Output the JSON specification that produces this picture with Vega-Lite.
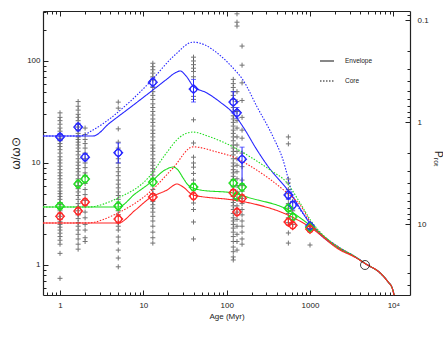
{
  "$schema": "https://vega.github.io/schema/vega-lite/v6.json",
  "width": 367,
  "height": 284,
  "autosize": "none",
  "padding": {"left": 43, "top": 11, "right": 33, "bottom": 42},
  "config": {
    "view": {"stroke": null},
    "font": "Liberation Sans",
    "axis": {
      "grid": false,
      "labelFont": "Liberation Sans",
      "labelFontSize": 8,
      "labelColor": "#222",
      "titleFont": "Liberation Sans",
      "titleFontWeight": "normal",
      "titleColor": "#222",
      "domainColor": "#222",
      "domainWidth": 1.2,
      "tickColor": "#222",
      "tickWidth": 1,
      "labelOverlap": false,
      "labelFlush": false,
      "labelBound": false
    }
  },
  "datasets": {
    "gray": [
      {"age":1,"omega":31},{"age":1,"omega":28},{"age":1,"omega":26},{"age":1,"omega":24},{"age":1,"omega":22},{"age":1,"omega":20.5},{"age":1,"omega":19},{"age":1,"omega":17.5},{"age":1,"omega":16.5},{"age":1,"omega":15.5},{"age":1,"omega":14.5},{"age":1,"omega":13.5},{"age":1,"omega":12.5},{"age":1,"omega":11.5},{"age":1,"omega":10.7},{"age":1,"omega":10},{"age":1,"omega":9.3},{"age":1,"omega":8.6},{"age":1,"omega":8},{"age":1,"omega":7.5},{"age":1,"omega":7},{"age":1,"omega":6.5},{"age":1,"omega":6.1},{"age":1,"omega":5.7},{"age":1,"omega":5.3},{"age":1,"omega":5},{"age":1,"omega":4.7},{"age":1,"omega":4.4},{"age":1,"omega":4.1},{"age":1,"omega":3.9},{"age":1,"omega":3.6},{"age":1,"omega":3.4},{"age":1,"omega":3.2},{"age":1,"omega":3.0},{"age":1,"omega":2.8},{"age":1,"omega":2.65},{"age":1,"omega":2.5},{"age":1,"omega":2.35},{"age":1,"omega":2.2},{"age":1,"omega":2.05},{"age":1,"omega":1.9},{"age":1,"omega":1.75},{"age":1,"omega":1.6},{"age":1,"omega":1.3},{"age":1,"omega":0.74},
      {"age":1.65,"omega":40},{"age":1.65,"omega":36},{"age":1.65,"omega":33},{"age":1.65,"omega":30},{"age":1.65,"omega":28},{"age":1.65,"omega":26},{"age":1.65,"omega":24},{"age":1.65,"omega":22.5},{"age":1.65,"omega":21},{"age":1.65,"omega":19.5},{"age":1.65,"omega":18},{"age":1.65,"omega":17},{"age":1.65,"omega":16},{"age":1.65,"omega":15},{"age":1.65,"omega":14},{"age":1.65,"omega":13},{"age":1.65,"omega":12},{"age":1.65,"omega":11},{"age":1.65,"omega":10.2},{"age":1.65,"omega":9.5},{"age":1.65,"omega":8.8},{"age":1.65,"omega":8.2},{"age":1.65,"omega":7.6},{"age":1.65,"omega":7},{"age":1.65,"omega":6.5},{"age":1.65,"omega":6},{"age":1.65,"omega":5.6},{"age":1.65,"omega":5.2},{"age":1.65,"omega":4.8},{"age":1.65,"omega":4.4},{"age":1.65,"omega":4},{"age":1.65,"omega":3.7},{"age":1.65,"omega":3.4},{"age":1.65,"omega":3.1},{"age":1.65,"omega":2.85},{"age":1.65,"omega":2.6},{"age":1.65,"omega":2.4},{"age":1.65,"omega":2.2},{"age":1.65,"omega":2.0},{"age":1.65,"omega":1.8},{"age":1.65,"omega":1.6},{"age":1.65,"omega":1.43},
      {"age":2,"omega":22},{"age":2,"omega":19},{"age":2,"omega":17},{"age":2,"omega":15.5},{"age":2,"omega":14},{"age":2,"omega":12.5},{"age":2,"omega":11},{"age":2,"omega":10},{"age":2,"omega":9},{"age":2,"omega":8},{"age":2,"omega":7.5},{"age":2,"omega":6.3},{"age":2,"omega":5.5},{"age":2,"omega":4.9},{"age":2,"omega":4.3},{"age":2,"omega":3.8},{"age":2,"omega":3.3},{"age":2,"omega":2.9},{"age":2,"omega":2.5},{"age":2,"omega":2.2},{"age":2,"omega":1.85},{"age":2,"omega":1.7},
      {"age":5,"omega":39.5},{"age":5,"omega":34.5},{"age":5,"omega":21.6},{"age":5,"omega":16},{"age":5,"omega":14},{"age":5,"omega":11},{"age":5,"omega":10},{"age":5,"omega":9},{"age":5,"omega":8.2},{"age":5,"omega":7.5},{"age":5,"omega":6.8},{"age":5,"omega":6.2},{"age":5,"omega":5.7},{"age":5,"omega":5.2},{"age":5,"omega":4.8},{"age":5,"omega":4.4},{"age":5,"omega":4.0},{"age":5,"omega":3.4},{"age":5,"omega":3.1},{"age":5,"omega":2.6},{"age":5,"omega":2.4},{"age":5,"omega":2.2},{"age":5,"omega":1.88},{"age":5,"omega":1.68},{"age":5,"omega":1.4},{"age":5,"omega":1.17},{"age":5,"omega":0.96},
      {"age":13,"omega":95},{"age":13,"omega":88},{"age":13,"omega":82},{"age":13,"omega":76},{"age":13,"omega":70},{"age":13,"omega":65},{"age":13,"omega":55},{"age":13,"omega":50},{"age":13,"omega":46},{"age":13,"omega":42},{"age":13,"omega":38},{"age":13,"omega":35},{"age":13,"omega":32},{"age":13,"omega":29.5},{"age":13,"omega":27},{"age":13,"omega":25},{"age":13,"omega":23},{"age":13,"omega":21},{"age":13,"omega":19.5},{"age":13,"omega":18},{"age":13,"omega":16.5},{"age":13,"omega":15},{"age":13,"omega":14},{"age":13,"omega":13},{"age":13,"omega":12},{"age":13,"omega":11},{"age":13,"omega":10.2},{"age":13,"omega":9.5},{"age":13,"omega":8.8},{"age":13,"omega":8.2},{"age":13,"omega":7.6},{"age":13,"omega":7},{"age":13,"omega":5.5},{"age":13,"omega":5},{"age":13,"omega":4.2},{"age":13,"omega":3.9},{"age":13,"omega":3.6},{"age":13,"omega":3.3},{"age":13,"omega":3.0},{"age":13,"omega":2.7},{"age":13,"omega":2.4},{"age":13,"omega":2.1},{"age":13,"omega":1.85},{"age":13,"omega":1.64},
      {"age":40,"omega":109},{"age":40,"omega":100},{"age":40,"omega":92},{"age":40,"omega":85},{"age":40,"omega":79},{"age":40,"omega":70},{"age":40,"omega":45},{"age":40,"omega":42},{"age":40,"omega":26.5},{"age":40,"omega":15.7},{"age":40,"omega":11.4},{"age":40,"omega":10},{"age":40,"omega":9.1},{"age":40,"omega":7.9},{"age":40,"omega":6.8},{"age":40,"omega":4.05},{"age":40,"omega":3.5},{"age":40,"omega":2.64},{"age":40,"omega":1.8},
      {"age":120,"omega":66},{"age":120,"omega":60},{"age":120,"omega":55},{"age":120,"omega":50},{"age":120,"omega":46},{"age":120,"omega":42},{"age":120,"omega":35},{"age":120,"omega":32},{"age":120,"omega":29},{"age":120,"omega":27},{"age":120,"omega":25},{"age":120,"omega":23},{"age":120,"omega":21},{"age":120,"omega":19.5},{"age":120,"omega":18},{"age":120,"omega":16.5},{"age":120,"omega":15},{"age":120,"omega":14},{"age":120,"omega":13},{"age":120,"omega":12},{"age":120,"omega":11},{"age":120,"omega":10},{"age":120,"omega":9.3},{"age":120,"omega":8.6},{"age":120,"omega":8},{"age":120,"omega":7.4},{"age":120,"omega":6.9},{"age":120,"omega":5.9},{"age":120,"omega":5.5},{"age":120,"omega":4.7},{"age":120,"omega":4.4},{"age":120,"omega":4.1},{"age":120,"omega":3.8},{"age":120,"omega":3.5},{"age":120,"omega":3.2},{"age":120,"omega":2.9},{"age":120,"omega":2.7},{"age":120,"omega":2.5},{"age":120,"omega":2.3},{"age":120,"omega":2.1},{"age":120,"omega":1.9},{"age":120,"omega":1.7},{"age":120,"omega":1.5},{"age":120,"omega":1.35},{"age":120,"omega":1.2},{"age":120,"omega":1.12},
      {"age":133,"omega":290},{"age":133,"omega":240},{"age":133,"omega":220},{"age":133,"omega":50},{"age":133,"omega":40},{"age":133,"omega":32},{"age":133,"omega":26},{"age":133,"omega":22},{"age":133,"omega":18},{"age":133,"omega":15},{"age":133,"omega":13},{"age":133,"omega":11},{"age":133,"omega":9.5},{"age":133,"omega":8.2},{"age":133,"omega":7},{"age":133,"omega":6},{"age":133,"omega":5.2},{"age":133,"omega":4.4},{"age":133,"omega":3.8},{"age":133,"omega":3.3},{"age":133,"omega":2.8},{"age":133,"omega":2.4},{"age":133,"omega":2.0},{"age":133,"omega":1.7},{"age":133,"omega":1.4},
      {"age":153,"omega":140},{"age":153,"omega":91},{"age":153,"omega":61},{"age":153,"omega":41},{"age":153,"omega":28},{"age":153,"omega":21},{"age":153,"omega":17.5},{"age":153,"omega":12.5},{"age":153,"omega":9.2},{"age":153,"omega":6.8},{"age":153,"omega":6},{"age":153,"omega":5.3},{"age":153,"omega":4.5},{"age":153,"omega":4},{"age":153,"omega":3.5},{"age":153,"omega":3.1},{"age":153,"omega":2.7},{"age":153,"omega":2.4},{"age":153,"omega":2.1},{"age":153,"omega":1.8},{"age":153,"omega":1.6},
      {"age":550,"omega":18},{"age":550,"omega":15.4},{"age":550,"omega":6.96},{"age":550,"omega":6.37},{"age":550,"omega":5.5},{"age":550,"omega":5.0},{"age":550,"omega":4.5},{"age":550,"omega":4.0},{"age":550,"omega":3.6},{"age":550,"omega":3.2},{"age":550,"omega":2.9},{"age":550,"omega":2.6},{"age":550,"omega":2.06},{"age":550,"omega":1.64},
      {"age":620,"omega":4.2},{"age":620,"omega":3.4},{"age":620,"omega":2.8},{"age":620,"omega":2.5},
      {"age":1000,"omega":1.57}
    ],
    "markers": [
      {"series":"blue","age":1,"omega":18.0,"lo":16.6,"hi":19.5},
      {"series":"blue","age":1.65,"omega":22.5,"lo":20.6,"hi":24.5},
      {"series":"blue","age":2,"omega":11.4,"lo":10.5,"hi":12.4},
      {"series":"blue","age":5,"omega":12.6,"lo":10.0,"hi":15.7},
      {"series":"blue","age":13,"omega":62,"lo":56,"hi":68},
      {"series":"blue","age":40,"omega":53,"lo":39.6,"hi":66},
      {"series":"blue","age":120,"omega":39.6,"lo":31,"hi":50},
      {"series":"blue","age":133,"omega":31,"lo":27.5,"hi":35},
      {"series":"blue","age":153,"omega":10.9,"lo":6.2,"hi":14.3},
      {"series":"blue","age":550,"omega":4.86,"lo":4.4,"hi":5.3},
      {"series":"blue","age":620,"omega":3.87,"lo":3.55,"hi":4.2},
      {"series":"blue","age":1000,"omega":2.41,"lo":2.25,"hi":2.58},
      {"series":"green","age":1,"omega":3.79,"lo":3.5,"hi":4.1},
      {"series":"green","age":1.65,"omega":6.22,"lo":5.7,"hi":6.8},
      {"series":"green","age":2,"omega":6.96,"lo":6.4,"hi":7.6},
      {"series":"green","age":5,"omega":3.79,"lo":3.45,"hi":4.15},
      {"series":"green","age":13,"omega":6.5,"lo":5.95,"hi":7.1},
      {"series":"green","age":40,"omega":5.8,"lo":5.35,"hi":6.3},
      {"series":"green","age":120,"omega":6.35,"lo":5.8,"hi":6.9},
      {"series":"green","age":133,"omega":4.74,"lo":4.4,"hi":5.1},
      {"series":"green","age":153,"omega":5.8,"lo":5.3,"hi":6.3},
      {"series":"green","age":550,"omega":3.6,"lo":3.35,"hi":3.9},
      {"series":"green","age":620,"omega":2.95,"lo":2.75,"hi":3.2},
      {"series":"green","age":1000,"omega":2.33,"lo":2.18,"hi":2.5},
      {"series":"red","age":1,"omega":3.0,"lo":2.78,"hi":3.25},
      {"series":"red","age":1.65,"omega":3.38,"lo":3.12,"hi":3.65},
      {"series":"red","age":2,"omega":4.15,"lo":3.85,"hi":4.5},
      {"series":"red","age":5,"omega":2.82,"lo":2.58,"hi":3.1},
      {"series":"red","age":13,"omega":4.65,"lo":4.3,"hi":5.0},
      {"series":"red","age":40,"omega":4.74,"lo":4.4,"hi":5.1},
      {"series":"red","age":120,"omega":5.1,"lo":4.7,"hi":5.5},
      {"series":"red","age":133,"omega":3.3,"lo":3.05,"hi":3.6},
      {"series":"red","age":153,"omega":4.5,"lo":4.15,"hi":4.9},
      {"series":"red","age":550,"omega":2.64,"lo":2.45,"hi":2.85},
      {"series":"red","age":620,"omega":2.45,"lo":2.28,"hi":2.65},
      {"series":"red","age":1000,"omega":2.25,"lo":2.1,"hi":2.42}
    ],
    "models": [
      {"series":"blue","kind":"Envelope","age":0.625,"omega":18.4},
      {"series":"blue","kind":"Envelope","age":2.2,"omega":18.4},
      {"series":"blue","kind":"Envelope","age":2.49,"omega":18.4},
      {"series":"blue","kind":"Envelope","age":3.98,"omega":24.8},
      {"series":"blue","kind":"Envelope","age":6.92,"omega":34.9},
      {"series":"blue","kind":"Envelope","age":12,"omega":49.3},
      {"series":"blue","kind":"Envelope","age":19,"omega":66},
      {"series":"blue","kind":"Envelope","age":24,"omega":76.3},
      {"series":"blue","kind":"Envelope","age":27.6,"omega":79.8},
      {"series":"blue","kind":"Envelope","age":32.5,"omega":71.5},
      {"series":"blue","kind":"Envelope","age":39.5,"omega":56.9},
      {"series":"blue","kind":"Envelope","age":58.2,"omega":48.5},
      {"series":"blue","kind":"Envelope","age":83.3,"omega":39.6},
      {"series":"blue","kind":"Envelope","age":119,"omega":30.9},
      {"series":"blue","kind":"Envelope","age":166,"omega":21.1},
      {"series":"blue","kind":"Envelope","age":219,"omega":14.4},
      {"series":"blue","kind":"Envelope","age":305,"omega":9.55},
      {"series":"blue","kind":"Envelope","age":577,"omega":5.08},
      {"series":"blue","kind":"Envelope","age":1031,"omega":2.47},
      {"series":"blue","kind":"Envelope","age":2297,"omega":1.43},
      {"series":"blue","kind":"Envelope","age":3478,"omega":1.2},
      {"series":"blue","kind":"Envelope","age":4713,"omega":1.02},
      {"series":"blue","kind":"Envelope","age":6950,"omega":0.835},
      {"series":"blue","kind":"Envelope","age":8666,"omega":0.681},
      {"series":"blue","kind":"Envelope","age":9680,"omega":0.596},
      {"series":"blue","kind":"Envelope","age":10230,"omega":0.508},
      {"series":"blue","kind":"Core","age":0.625,"omega":18.4},
      {"series":"blue","kind":"Core","age":1.6,"omega":18.4},
      {"series":"blue","kind":"Core","age":1.74,"omega":18.4},
      {"series":"blue","kind":"Core","age":2.49,"omega":21.1},
      {"series":"blue","kind":"Core","age":6.92,"omega":40},
      {"series":"blue","kind":"Core","age":12,"omega":62.2},
      {"series":"blue","kind":"Core","age":23.9,"omega":114.5},
      {"series":"blue","kind":"Core","age":39.5,"omega":153},
      {"series":"blue","kind":"Core","age":55,"omega":143.5},
      {"series":"blue","kind":"Core","age":76.7,"omega":120},
      {"series":"blue","kind":"Core","age":119,"omega":85.4},
      {"series":"blue","kind":"Core","age":157,"omega":65.1},
      {"series":"blue","kind":"Core","age":232,"omega":35.4},
      {"series":"blue","kind":"Core","age":361,"omega":18},
      {"series":"blue","kind":"Core","age":475,"omega":10.7},
      {"series":"blue","kind":"Core","age":610,"omega":5.08},
      {"series":"blue","kind":"Core","age":1031,"omega":2.58},
      {"series":"blue","kind":"Core","age":2297,"omega":1.47},
      {"series":"blue","kind":"Core","age":3478,"omega":1.21},
      {"series":"blue","kind":"Core","age":4713,"omega":1.02},
      {"series":"blue","kind":"Core","age":6950,"omega":0.835},
      {"series":"blue","kind":"Core","age":8666,"omega":0.681},
      {"series":"blue","kind":"Core","age":9680,"omega":0.596},
      {"series":"blue","kind":"Core","age":10230,"omega":0.508},
      {"series":"green","kind":"Envelope","age":0.625,"omega":3.7},
      {"series":"green","kind":"Envelope","age":4.5,"omega":3.7},
      {"series":"green","kind":"Envelope","age":4.97,"omega":3.7},
      {"series":"green","kind":"Envelope","age":8,"omega":5.0},
      {"series":"green","kind":"Envelope","age":12,"omega":6.37},
      {"series":"green","kind":"Envelope","age":18.2,"omega":8.54},
      {"series":"green","kind":"Envelope","age":22.7,"omega":9.14},
      {"series":"green","kind":"Envelope","age":26,"omega":8.54},
      {"series":"green","kind":"Envelope","age":30,"omega":7.13},
      {"series":"green","kind":"Envelope","age":34.4,"omega":6.09},
      {"series":"green","kind":"Envelope","age":39.5,"omega":5.69},
      {"series":"green","kind":"Envelope","age":48,"omega":5.44},
      {"series":"green","kind":"Envelope","age":119,"omega":5.08},
      {"series":"green","kind":"Envelope","age":191,"omega":4.54},
      {"series":"green","kind":"Envelope","age":548,"omega":3.46},
      {"series":"green","kind":"Envelope","age":1031,"omega":2.41},
      {"series":"green","kind":"Envelope","age":2297,"omega":1.43},
      {"series":"green","kind":"Envelope","age":3478,"omega":1.2},
      {"series":"green","kind":"Envelope","age":4713,"omega":1.02},
      {"series":"green","kind":"Envelope","age":6950,"omega":0.835},
      {"series":"green","kind":"Envelope","age":8666,"omega":0.681},
      {"series":"green","kind":"Envelope","age":9680,"omega":0.596},
      {"series":"green","kind":"Envelope","age":10230,"omega":0.508},
      {"series":"green","kind":"Core","age":0.625,"omega":3.7},
      {"series":"green","kind":"Core","age":1.9,"omega":3.7},
      {"series":"green","kind":"Core","age":2.11,"omega":3.7},
      {"series":"green","kind":"Core","age":4.97,"omega":4.54},
      {"series":"green","kind":"Core","age":12,"omega":7.46},
      {"series":"green","kind":"Core","age":18.2,"omega":12},
      {"series":"green","kind":"Core","age":27.6,"omega":18},
      {"series":"green","kind":"Core","age":39.5,"omega":20.1},
      {"series":"green","kind":"Core","age":63.2,"omega":18},
      {"series":"green","kind":"Core","age":119,"omega":14.4},
      {"series":"green","kind":"Core","age":191,"omega":11.5},
      {"series":"green","kind":"Core","age":332,"omega":8.54},
      {"series":"green","kind":"Core","age":531,"omega":6.37},
      {"series":"green","kind":"Core","age":761,"omega":4.05},
      {"series":"green","kind":"Core","age":1031,"omega":2.7},
      {"series":"green","kind":"Core","age":1518,"omega":1.88},
      {"series":"green","kind":"Core","age":2297,"omega":1.47},
      {"series":"green","kind":"Core","age":3478,"omega":1.21},
      {"series":"green","kind":"Core","age":4713,"omega":1.02},
      {"series":"green","kind":"Core","age":6950,"omega":0.835},
      {"series":"green","kind":"Core","age":8666,"omega":0.681},
      {"series":"green","kind":"Core","age":9680,"omega":0.596},
      {"series":"green","kind":"Core","age":10230,"omega":0.508},
      {"series":"red","kind":"Envelope","age":0.625,"omega":2.58},
      {"series":"red","kind":"Envelope","age":4.5,"omega":2.58},
      {"series":"red","kind":"Envelope","age":4.97,"omega":2.58},
      {"series":"red","kind":"Envelope","age":8,"omega":3.45},
      {"series":"red","kind":"Envelope","age":12,"omega":4.54},
      {"series":"red","kind":"Envelope","age":19.3,"omega":5.44},
      {"series":"red","kind":"Envelope","age":25.4,"omega":6.22},
      {"series":"red","kind":"Envelope","age":30,"omega":5.82},
      {"series":"red","kind":"Envelope","age":39.5,"omega":4.86},
      {"series":"red","kind":"Envelope","age":119,"omega":4.34},
      {"series":"red","kind":"Envelope","age":191,"omega":4.05},
      {"series":"red","kind":"Envelope","age":577,"omega":3.02},
      {"series":"red","kind":"Envelope","age":1031,"omega":2.31},
      {"series":"red","kind":"Envelope","age":2297,"omega":1.4},
      {"series":"red","kind":"Envelope","age":3478,"omega":1.19},
      {"series":"red","kind":"Envelope","age":4713,"omega":1.02},
      {"series":"red","kind":"Envelope","age":6950,"omega":0.835},
      {"series":"red","kind":"Envelope","age":8666,"omega":0.681},
      {"series":"red","kind":"Envelope","age":9680,"omega":0.596},
      {"series":"red","kind":"Envelope","age":10230,"omega":0.508},
      {"series":"red","kind":"Core","age":0.625,"omega":2.58},
      {"series":"red","kind":"Core","age":1.9,"omega":2.58},
      {"series":"red","kind":"Core","age":2.11,"omega":2.58},
      {"series":"red","kind":"Core","age":4.97,"omega":3.24},
      {"series":"red","kind":"Core","age":12,"omega":5.2},
      {"series":"red","kind":"Core","age":22.7,"omega":8.93},
      {"series":"red","kind":"Core","age":39.5,"omega":14.4},
      {"series":"red","kind":"Core","age":76.7,"omega":12.8},
      {"series":"red","kind":"Core","age":119,"omega":11.5},
      {"series":"red","kind":"Core","age":191,"omega":9.35},
      {"series":"red","kind":"Core","age":531,"omega":5.08},
      {"series":"red","kind":"Core","age":761,"omega":3.88},
      {"series":"red","kind":"Core","age":1031,"omega":2.58},
      {"series":"red","kind":"Core","age":1518,"omega":1.85},
      {"series":"red","kind":"Core","age":2297,"omega":1.46},
      {"series":"red","kind":"Core","age":3478,"omega":1.2},
      {"series":"red","kind":"Core","age":4713,"omega":1.02},
      {"series":"red","kind":"Core","age":6950,"omega":0.835},
      {"series":"red","kind":"Core","age":8666,"omega":0.681},
      {"series":"red","kind":"Core","age":9680,"omega":0.596},
      {"series":"red","kind":"Core","age":10230,"omega":0.508}
    ],
    "sun": [{"age": 4570, "omega": 1}],
    "period": [{"age": 1, "P": 1}]
  },
  "layer": [
    {
      "encoding": {
        "x": {
          "field": "age", "type": "quantitative",
          "scale": {"type": "log", "domain": [0.625, 15850], "nice": false},
          "axis": {
            "orient": "bottom",
            "values": [0.7,0.8,0.9,1,2,3,4,5,6,7,8,9,10,20,30,40,50,60,70,80,90,100,200,300,400,500,600,700,800,900,1000,2000,3000,4000,5000,6000,7000,8000,9000,10000],
            "labelExpr": "datum.value==1?'1':datum.value==10?'10':datum.value==100?'100':datum.value==1000?'1000':datum.value==10000?'10⁴':''",
            "tickSize": {"condition": {"test": "datum.value==1||datum.value==10||datum.value==100||datum.value==1000||datum.value==10000", "value": -5}, "value": -3},
            "labelPadding": 11,
            "title": "Age (Myr)",
            "titleFontSize": 8,
            "titleX": 183.5,
            "titleY": 21,
            "titleAlign": "center",
            "titleBaseline": "middle"
          }
        },
        "y": {
          "field": "omega", "type": "quantitative",
          "scale": {"type": "log", "domain": [0.508, 309], "nice": false},
          "axis": {
            "orient": "left",
            "values": [0.6,0.7,0.8,0.9,1,2,3,4,5,6,7,8,9,10,20,30,40,50,60,70,80,90,100,200,300],
            "labelExpr": "datum.value==1?'1':datum.value==10?'10':datum.value==100?'100':''",
            "tickSize": {"condition": {"test": "datum.value==1||datum.value==10||datum.value==100", "value": -5}, "value": -3},
            "labelPadding": 8,
            "title": "ω/ω⊙",
            "titleFontSize": 12,
            "titleX": -28,
            "titleY": 142,
            "titleAngle": -90,
            "titleAlign": "center",
            "titleBaseline": "middle"
          }
        }
      },
      "layer": [
        {
          "data": {"name": "gray"},
          "mark": {"type": "point", "shape": "M-1,0L1,0M0,-1L0,1", "size": 25, "filled": false, "stroke": "#3a3a3a", "strokeWidth": 1, "opacity": 0.7}
        },
        {
          "data": {"name": "models"},
          "mark": {"type": "line", "strokeWidth": 1.1, "interpolate": "monotone"},
          "encoding": {
            "color": {"field": "series", "type": "nominal", "scale": {"domain": ["blue","green","red"], "range": ["#2626ff","#1fdd1f","#ff2626"]}, "legend": null},
            "detail": {"field": "kind"},
            "strokeDash": {
              "field": "kind", "type": "nominal",
              "scale": {"domain": ["Envelope","Core"], "range": [[1,0],[1.5,1.5]]},
              "legend": {
                "orient": "none", "legendX": 276, "legendY": 42,
                "title": null, "symbolType": "stroke", "symbolSize": 196,
                "symbolStrokeColor": "#111", "symbolStrokeWidth": 1.2,
                "labelFontSize": 6.5, "labelColor": "#222", "labelFont": "Liberation Sans",
                "labelOffset": 10, "rowPadding": 8, "padding": 0
              }
            }
          }
        },
        {
          "data": {"name": "markers"},
          "mark": {"type": "errorbar", "ticks": {"size": 5}, "thickness": 1},
          "encoding": {
            "y": {"field": "lo", "type": "quantitative", "scale": {"type": "log", "domain": [0.508, 309], "nice": false}, "title": "ω/ω⊙"},
            "y2": {"field": "hi"},
            "color": {"field": "series", "type": "nominal", "legend": null}
          }
        },
        {
          "data": {"name": "markers"},
          "mark": {"type": "point", "shape": "circle", "size": 42, "filled": false, "strokeWidth": 1.1, "opacity": 1},
          "encoding": {"color": {"field": "series", "type": "nominal", "legend": null}}
        },
        {
          "data": {"name": "markers"},
          "mark": {"type": "point", "shape": "diamond", "size": 80, "filled": false, "strokeWidth": 1.1, "opacity": 1},
          "encoding": {"color": {"field": "series", "type": "nominal", "legend": null}}
        },
        {
          "data": {"name": "sun"},
          "mark": {"type": "point", "shape": "circle", "size": 81, "filled": false, "stroke": "#111", "strokeWidth": 0.8, "opacity": 1}
        }
      ]
    },
    {
      "data": {"name": "period"},
      "mark": {"type": "point", "opacity": 0},
      "encoding": {
        "x": {
          "field": "age", "type": "quantitative",
          "scale": {"type": "log", "domain": [0.625, 15850], "nice": false},
          "axis": {
            "orient": "top",
            "values": [0.7,0.8,0.9,1,2,3,4,5,6,7,8,9,10,20,30,40,50,60,70,80,90,100,200,300,400,500,600,700,800,900,1000,2000,3000,4000,5000,6000,7000,8000,9000,10000],
            "labels": false,
            "tickSize": {"condition": {"test": "datum.value==1||datum.value==10||datum.value==100||datum.value==1000||datum.value==10000", "value": -5}, "value": -3},
            "title": null
          }
        },
        "y": {
          "field": "P", "type": "quantitative",
          "scale": {"type": "log", "domain": [0.08155, 49.6], "nice": false, "reverse": true},
          "axis": {
            "orient": "right",
            "values": [0.09,0.1,0.2,0.3,0.4,0.5,0.6,0.7,0.8,0.9,1,2,3,4,5,6,7,8,9,10,20,30,40],
            "labelExpr": "datum.value==0.1?'0.1':datum.value==1?'1':datum.value==10?'10':''",
            "tickSize": {"condition": {"test": "datum.value==0.1||datum.value==1||datum.value==10", "value": -5}, "value": -3},
            "labelPadding": 12,
            "title": "Pᵣₒₜ",
            "titleFontSize": 10,
            "titleX": 27,
            "titleY": 147,
            "titleAngle": 90,
            "titleAlign": "center",
            "titleBaseline": "middle"
          }
        }
      }
    }
  ],
  "resolve": {"scale": {"y": "independent"}, "axis": {"x": "independent", "y": "independent"}}
}
